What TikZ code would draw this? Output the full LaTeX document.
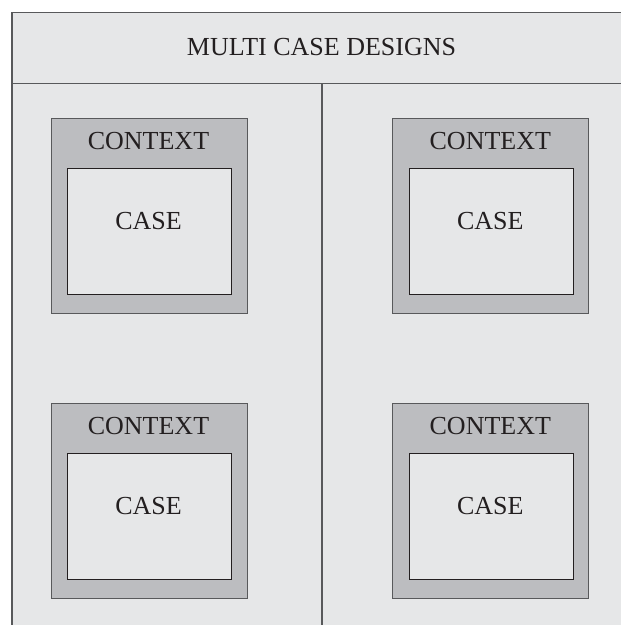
\documentclass[tikz,border=0pt]{standalone}
\usepackage{fontspec}
\setmainfont{Liberation Serif}
\usetikzlibrary{calc}
\definecolor{bg}{HTML}{E6E7E8}
\definecolor{ctxfill}{HTML}{BCBDC0}
\definecolor{edgegray}{HTML}{58595B}
\definecolor{ink}{HTML}{231F20}
\begin{document}
\begin{tikzpicture}[x=1pt,y=-1pt,
  frameline/.style={draw=edgegray,line width=1.2pt},
  ctxbox/.style={rectangle,draw=edgegray,fill=ctxfill,line width=1pt,minimum width=196pt,minimum height=195pt,anchor=north west,inner sep=0pt},
  casebox/.style={rectangle,draw=ink,fill=bg,line width=1pt,minimum width=164pt,minimum height=126pt,anchor=north west,inner sep=0pt},
  lbl/.style={text=ink,font=\fontsize{26}{30}\selectfont,inner sep=0pt}]
\useasboundingbox (0,0) rectangle (621,625);
\clip (0,0) rectangle (621,625);
\fill[bg] (0,0) rectangle (621,625);
\fill[white] (0,0) rectangle (621,12.5);
\fill[white] (0,0) rectangle (12,625);
\draw[frameline,fill=bg] (12,12.5) rectangle (650,650);
\coordinate (hl) at (12,83.5);
\coordinate (hr) at (650,83.5);
\draw[frameline] (hl) -- (hr);
\coordinate (mt) at (322,83.5);
\coordinate (mb) at (322,650);
\draw[frameline] (mt) -- (mb);
\node[lbl] (title) at (321.5,47.5) {MULTI CASE DESIGNS};
\newcommand{\contextcase}[3]{%
  \node[ctxbox] (ctx#1) at (#2,#3) {};
  \node[casebox] (case#1) at ($(#2,#3)+(16.5,50)$) {};
  \node[lbl] (ctxlbl#1) at ($(#2,#3)+(98,23)$) {CONTEXT};
  \node[lbl] (caselbl#1) at ($(#2,#3)+(98,103)$) {CASE};
}
\contextcase{a}{50.5}{118}
\contextcase{b}{392.3}{118}
\contextcase{c}{50.5}{402.7}
\contextcase{d}{392.3}{402.7}
\end{tikzpicture}
\end{document}
